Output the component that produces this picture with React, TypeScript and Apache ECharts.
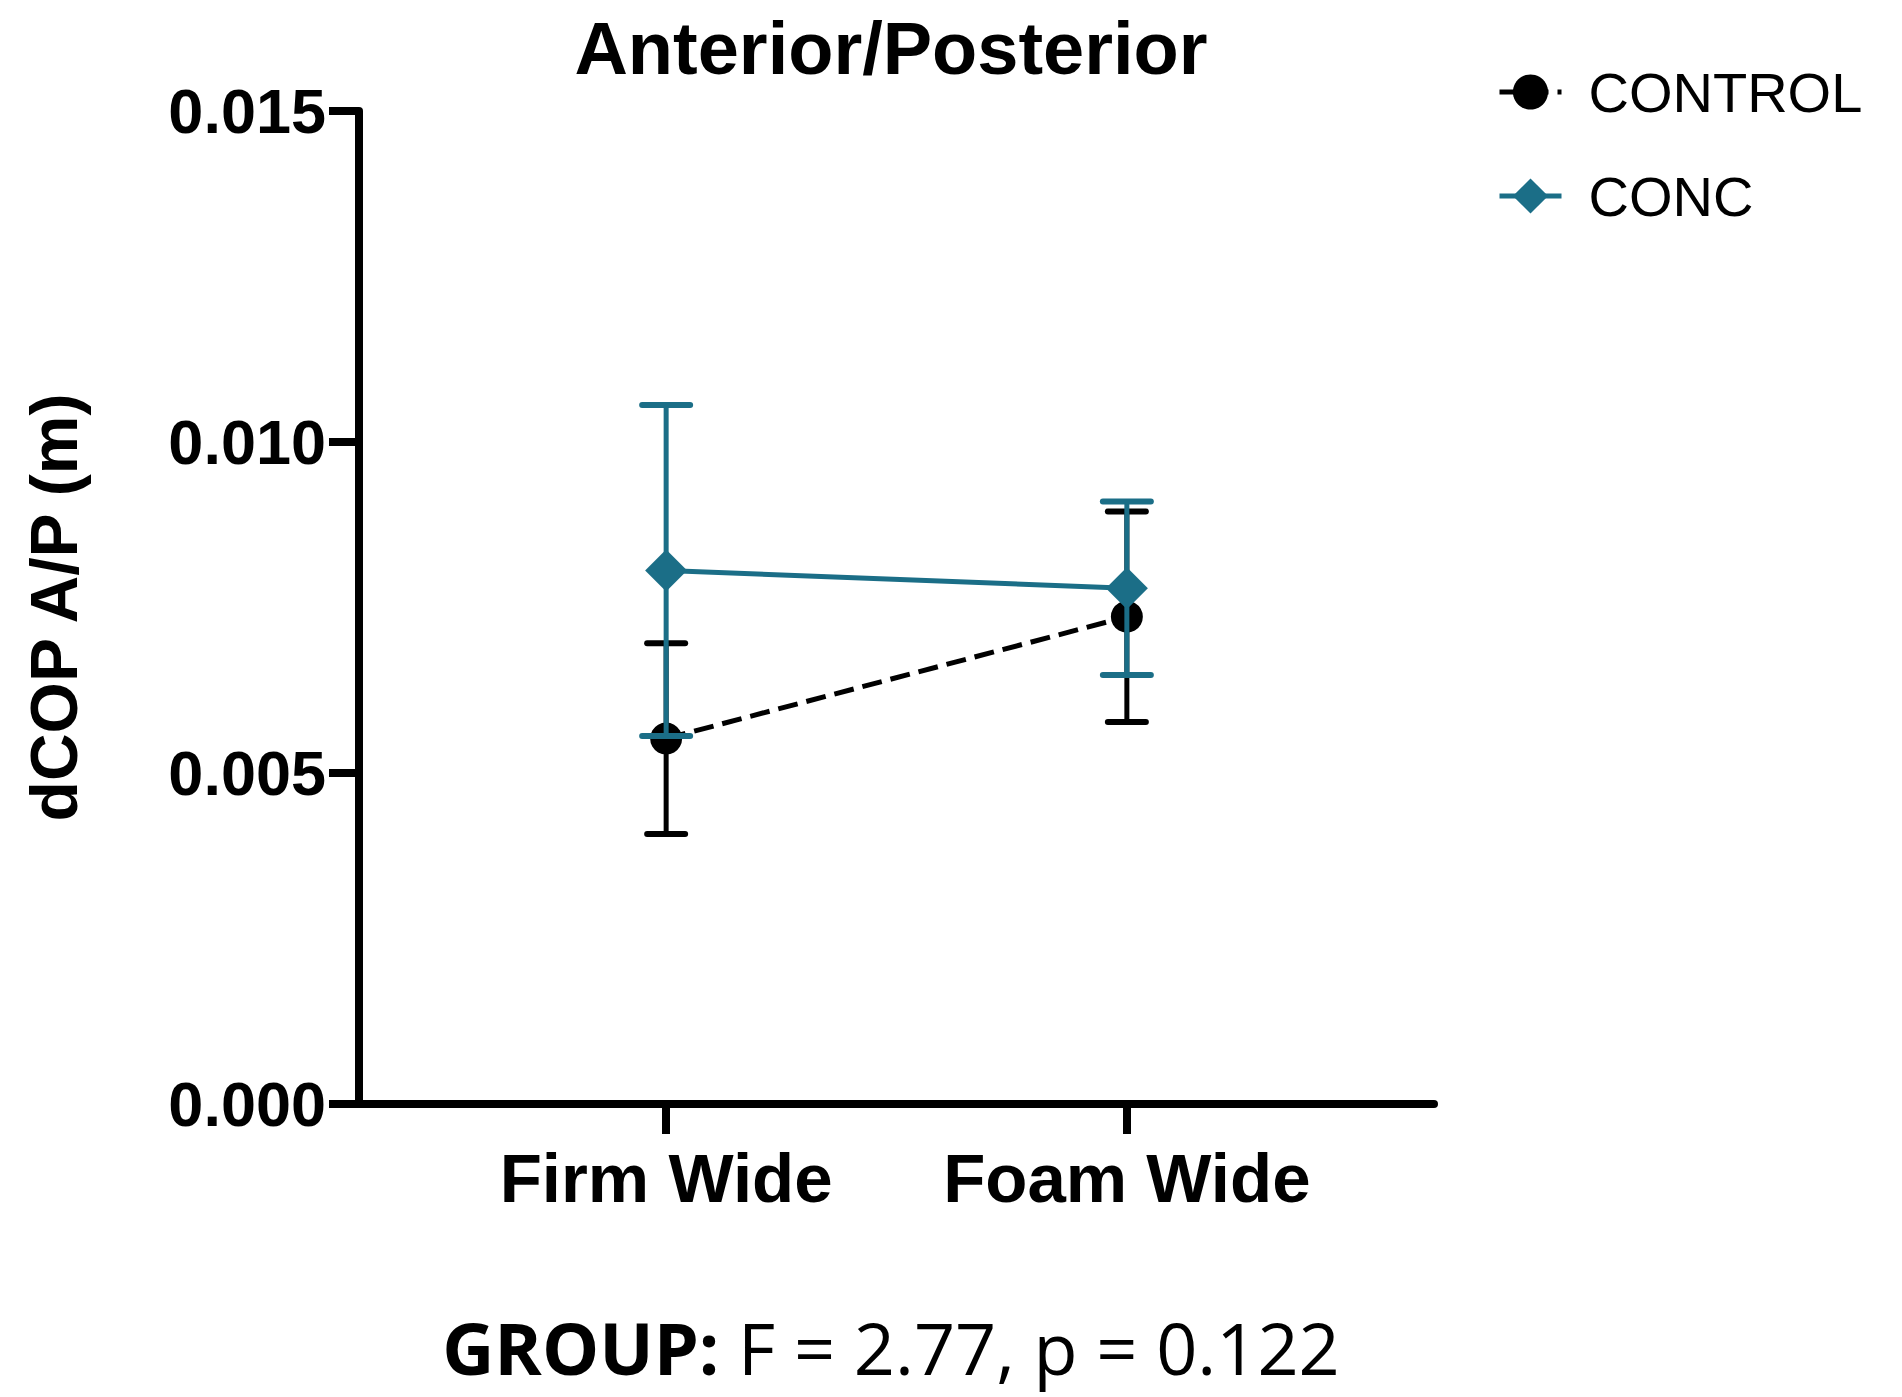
import React, { useEffect, useRef } from 'react';
import * as echarts from 'echarts';

// ---- data ----
const CATEGORIES = ['Firm Wide', 'Foam Wide'];
const CATEGORY_SLOTS = [2, 5];
const SLOT_COUNT = 8;
const Y_MIN = 0;
const Y_MAX = 0.015;
const Y_STEP = 0.005;
const CONTROL_MEAN = [0.00552, 0.00736];
const CONTROL_ERR = [0.00144, 0.00159];
const CONC_MEAN = [0.00806, 0.00779];
const CONC_ERR = [0.0025, 0.00131];
const SERIES_NAMES = ['CONTROL', 'CONC'];
const TITLE = 'Anterior/Posterior';
const Y_NAME = 'dCOP A/P (m)';
const STAT_LABEL = 'GROUP:';
const STAT_TEXT = 'F = 2.77, p = 0.122';

const TEAL = '#1b6e87';
const BLACK = '#000000';
const ARIAL = '"Liberation Sans", Arial, Helvetica, sans-serif';
const OPEN = '"Open Sans", "Noto Sans", sans-serif';

const slotData = Array.from({ length: SLOT_COUNT }, (_, i) => {
  const k = CATEGORY_SLOTS.indexOf(i);
  return k >= 0 ? CATEGORIES[k] : `_slot${i}`;
});
const isReal = (i: number) => CATEGORY_SLOTS.indexOf(i) >= 0;

const errRender = (capW: number, color: string, lw: number) => (params: any, api: any) => {
  const x = api.value(0);
  const lo = api.value(1);
  const hi = api.value(2);
  const pLo = api.coord([x, lo]);
  const pHi = api.coord([x, hi]);
  const style = { stroke: color, lineWidth: lw, lineCap: 'round' };
  return {
    type: 'group',
    children: [
      { type: 'line', shape: { x1: pLo[0], y1: pLo[1], x2: pHi[0], y2: pHi[1] }, style },
      { type: 'line', shape: { x1: pHi[0] - capW / 2, y1: pHi[1], x2: pHi[0] + capW / 2, y2: pHi[1] }, style: { ...style, lineWidth: lw + 1 } },
      { type: 'line', shape: { x1: pLo[0] - capW / 2, y1: pLo[1], x2: pLo[0] + capW / 2, y2: pLo[1] }, style: { ...style, lineWidth: lw + 1 } },
    ],
  };
};

export default function App() {
  const ref = useRef<HTMLDivElement>(null);
  useEffect(() => {
    if (!ref.current) return;
    const chart = echarts.init(ref.current, undefined, { renderer: 'svg' });
    const controlErr = CONTROL_MEAN.map((m, i) => [CATEGORY_SLOTS[i], m - CONTROL_ERR[i], m + CONTROL_ERR[i]]);
    const concErr = CONC_MEAN.map((m, i) => [CATEGORY_SLOTS[i], m - CONC_ERR[i], m + CONC_ERR[i]]);
    chart.setOption({
      animation: false,
      backgroundColor: '#ffffff',
      graphic: [
        {
          type: 'text',
          x: 891,
          y: 48,
          style: {
            text: TITLE,
            fontSize: 74,
            fontWeight: 'bold',
            fontFamily: ARIAL,
            fill: BLACK,
            align: 'center',
            verticalAlign: 'middle',
          },
        },
        {
          type: 'text',
          x: 891,
          y: 1347,
          style: {
            text: `{b|${STAT_LABEL}} {r|${STAT_TEXT}}`,
            align: 'center',
            verticalAlign: 'middle',
            rich: {
              b: { fontSize: 72, lineHeight: 72, fontWeight: 'bold', fontFamily: OPEN, fill: BLACK },
              r: { fontSize: 72, lineHeight: 72, fontWeight: 'normal', fontFamily: OPEN, fill: BLACK },
            },
            fontSize: 72,
            lineHeight: 72,
            fontFamily: OPEN,
          },
        },
      ],
      legend: {
        data: SERIES_NAMES,
        orient: 'vertical',
        left: 1492,
        top: 59,
        itemWidth: 62,
        itemHeight: 44,
        itemGap: 48,
        lineStyle: { width: 5 },
        textStyle: {
          fontSize: 56,
          fontFamily: ARIAL,
          color: BLACK,
          padding: [0, 0, 0, 22],
        },
      },
      grid: { left: 359, top: 111, width: 1075, height: 993, containLabel: false, outerBoundsMode: 'none' },
      xAxis: {
        type: 'category',
        data: slotData,
        boundaryGap: false,
        axisLine: { lineStyle: { color: BLACK, width: 8 } },
        axisTick: {
          show: true,
          length: 30,
          interval: (i: number) => isReal(i),
          lineStyle: { color: BLACK, width: 8 },
        },
        axisLabel: {
          interval: (i: number) => isReal(i),
          formatter: (v: string) => (v.startsWith('_slot') ? '' : v),
          fontSize: 69,
          fontWeight: 'bold',
          fontFamily: ARIAL,
          color: BLACK,
          margin: 40,
        },
        splitLine: { show: false },
      },
      yAxis: {
        type: 'value',
        min: Y_MIN,
        max: Y_MAX,
        interval: Y_STEP,
        name: Y_NAME,
        nameLocation: 'middle',
        nameRotate: 90,
        nameGap: 272,
        nameTextStyle: { fontSize: 66, fontWeight: 'bold', fontFamily: ARIAL, color: BLACK },
        axisLine: { show: true, lineStyle: { color: BLACK, width: 8 } },
        axisTick: { show: true, length: 30, lineStyle: { color: BLACK, width: 8 } },
        axisLabel: {
          formatter: (v: number) => v.toFixed(3),
          fontSize: 63,
          fontWeight: 'bold',
          fontFamily: ARIAL,
          color: BLACK,
          margin: 33,
        },
        splitLine: { show: false },
      },
      series: [
        {
          name: 'CONTROL error',
          type: 'custom',
          renderItem: errRender(38, BLACK, 5),
          encode: { x: 0, y: [1, 2] },
          data: controlErr,
          z: 2,
          silent: true,
        },
        {
          name: SERIES_NAMES[0],
          type: 'line',
          data: CONTROL_MEAN.map((m, i) => [CATEGORY_SLOTS[i], m]),
          symbol: 'circle',
          symbolSize: 32,
          itemStyle: { color: BLACK },
          lineStyle: { color: BLACK, width: 5, type: [20, 9] },
          z: 3,
        },
        {
          name: 'CONC error',
          type: 'custom',
          renderItem: errRender(48, TEAL, 5),
          encode: { x: 0, y: [1, 2] },
          data: concErr,
          z: 4,
          silent: true,
        },
        {
          name: SERIES_NAMES[1],
          type: 'line',
          data: CONC_MEAN.map((m, i) => [CATEGORY_SLOTS[i], m]),
          symbol: 'diamond',
          symbolSize: 42,
          itemStyle: { color: TEAL },
          lineStyle: { color: TEAL, width: 5 },
          z: 5,
        },
      ],
    });
    return () => chart.dispose();
  }, []);
  return (
    <div
      ref={ref}
      style={{ position: 'absolute', left: 0, top: 0, width: 1902, height: 1397, background: '#fff' }}
    />
  );
}
